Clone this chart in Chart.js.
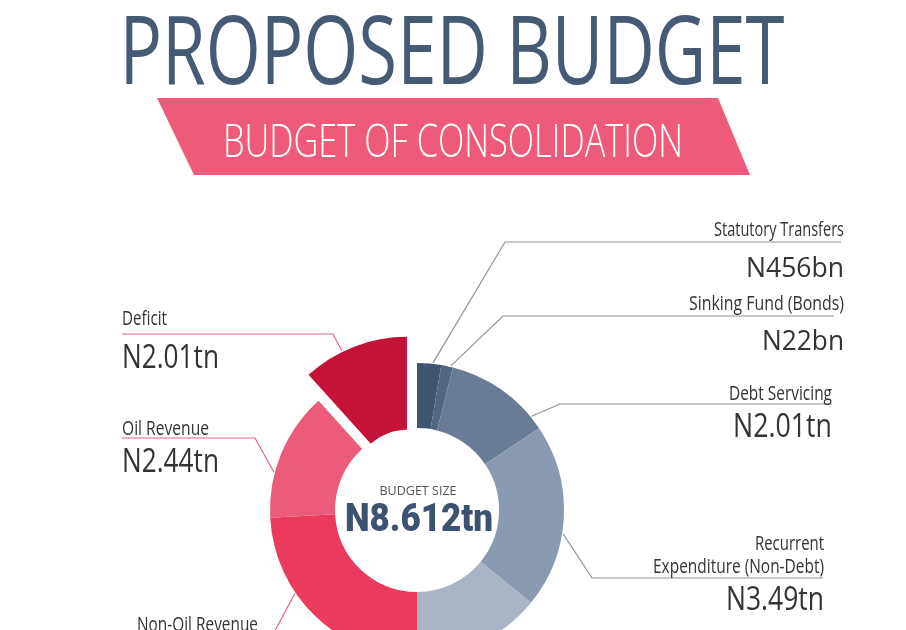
<!DOCTYPE html>
<html>
<head>
<meta charset="utf-8">
<script src="https://cdn.jsdelivr.net/npm/chart.js@4.4.1/dist/chart.umd.min.js"></script>
<style>
  html, body { margin: 0; padding: 0; background: #fff; overflow: hidden; }
  #wrap { position: relative; width: 906px; height: 630px; }
</style>
</head>
<body>
<div id="wrap"><canvas id="budgetChart"></canvas></div>
<script>
// slices, clockwise from 12 o'clock: expenditure on the right, funding on the left
const categories = [
  'Statutory Transfers', 'Sinking Fund (Bonds)', 'Debt Servicing',
  'Recurrent Expenditure (Non-Debt)', 'Capital Expenditure',
  'Non-Oil Revenue', 'Oil Revenue', 'Deficit'
];
const values = [0.456, 0.22, 2.01, 3.49, 2.43, 4.16, 2.44, 2.01]; // N trillion
const valueLabels = ['N456bn', 'N22bn', 'N2.01tn', 'N3.49tn', '', '', 'N2.44tn', 'N2.01tn'];
const sliceColors = ['#3e5470', '#536680', '#6a7c94', '#8a9bb1', '#a9b5c5', '#ea3a5e', '#ec5b79', '#c51238'];
const budgetSize = 'N8.612tn';

const SANS = '"Open Sans", sans-serif';
const slate = '#465a74';
const labelInk = '#333333';

// draw text squeezed to a measured width (the original uses a condensed face)
function fitText(ctx, t) {
  const size = t.cap / 0.714;
  ctx.save();
  ctx.font = `${t.weight || 500} ${size}px ${t.family || SANS}`;
  ctx.fillStyle = t.color || labelInk;
  ctx.textAlign = t.align || 'left';
  ctx.textBaseline = 'alphabetic';
  const w = ctx.measureText(t.text).width;
  ctx.translate(t.x, t.y);
  ctx.scale(t.width / w, 1);
  ctx.fillText(t.text, 0, 0);
  ctx.restore();
}

const headTexts = [
  { text: 'PROPOSED BUDGET', x: 452, y: 84, cap: 68, width: 665, align: 'center', color: slate, weight: 500 },
  { text: 'BUDGET OF CONSOLIDATION', x: 453, y: 157, cap: 33, width: 460, align: 'center', color: '#ffffff', weight: 300 }
];

const labelTexts = [
  { text: categories[0], x: 844, y: 236, cap: 14, width: 130, align: 'right' },
  { text: valueLabels[0], x: 844, y: 277, cap: 20, width: 98, align: 'right', weight: 400 },
  { text: categories[1], x: 844, y: 310, cap: 14, width: 155, align: 'right' },
  { text: valueLabels[1], x: 844, y: 350, cap: 19, width: 82, align: 'right', weight: 400 },
  { text: categories[2], x: 832, y: 400, cap: 14, width: 103, align: 'right' },
  { text: valueLabels[2], x: 832, y: 437, cap: 23, width: 99, align: 'right', weight: 400 },
  { text: 'Recurrent', x: 824, y: 550, cap: 14, width: 69, align: 'right' },
  { text: 'Expenditure (Non-Debt)', x: 824, y: 573, cap: 14, width: 171, align: 'right' },
  { text: valueLabels[3], x: 824, y: 610, cap: 23, width: 98, align: 'right', weight: 400 },
  { text: categories[7], x: 122, y: 325, cap: 14, width: 45 },
  { text: valueLabels[7], x: 122, y: 368, cap: 23, width: 97, weight: 400 },
  { text: categories[6], x: 122, y: 435, cap: 14, width: 87 },
  { text: valueLabels[6], x: 122, y: 472, cap: 23, width: 97, weight: 400 },
  { text: categories[5], x: 137, y: 631, cap: 14, width: 121 },
  { text: 'BUDGET SIZE', x: 418, y: 495, cap: 8.5, width: 77, align: 'center', color: '#555555', weight: 400 },
  { text: budgetSize, x: 419, y: 531, cap: 28, width: 148, align: 'center', color: '#3d5170', weight: 900, family: 'Roboto, sans-serif' }
];

// leader lines: point on slice rim -> elbow -> horizontal run
const rightLine = '#8c929c';
const leftLine = '#e2657f';
const leaders = [
  { i: 0, frac: 0.65, elbow: [505, 242], endX: 841, color: rightLine },
  { i: 1, frac: 0.8, elbow: [503, 316], endX: 834, color: rightLine },
  { i: 2, frac: 0.87, elbow: [560, 404], endX: 832, color: rightLine },
  { i: 3, frac: 0.59, elbow: [592, 578], endX: 823, color: rightLine },
  { i: 5, frac: 0.64, elbow: [270, 640], endX: 137, color: leftLine },
  { i: 6, frac: 0.35, elbow: [255, 438], endX: 122, color: leftLine },
  { i: 7, frac: 0.38, elbow: [333, 334], endX: 122, color: leftLine }
];

const EXPLODE = 28;

const infographic = {
  id: 'infographic',
  afterDatasetsUpdate(chart) {
    // pull the deficit slice out along its bisector
    const arc = chart.getDatasetMeta(0).data[7];
    const mid = (arc.startAngle + arc.endAngle) / 2;
    arc.x += Math.cos(mid) * EXPLODE;
    arc.y += Math.sin(mid) * EXPLODE;
    arc.innerRadius -= EXPLODE;
  },
  beforeDraw(chart) {
    const ctx = chart.ctx;
    ctx.save();
    ctx.fillStyle = '#ffffff';
    ctx.fillRect(0, 0, chart.width, chart.height);
    ctx.fillStyle = '#ee5b7a';
    ctx.beginPath();
    ctx.moveTo(157, 98);
    ctx.lineTo(718, 98);
    ctx.lineTo(750, 175);
    ctx.lineTo(194, 175);
    ctx.closePath();
    ctx.fill();
    ctx.restore();
    headTexts.forEach(t => fitText(ctx, t));
  },
  afterDatasetsDraw(chart) {
    const ctx = chart.ctx;
    const arcs = chart.getDatasetMeta(0).data;
    ctx.save();
    ctx.lineWidth = 1.2;
    leaders.forEach(l => {
      const arc = arcs[l.i];
      const a = arc.startAngle + l.frac * (arc.endAngle - arc.startAngle);
      const r = arc.outerRadius + 1;
      ctx.strokeStyle = l.color;
      ctx.beginPath();
      ctx.moveTo(arc.x + Math.cos(a) * r, arc.y + Math.sin(a) * r);
      ctx.lineTo(l.elbow[0], l.elbow[1]);
      ctx.lineTo(l.endX, l.elbow[1]);
      ctx.stroke();
    });
    ctx.restore();
    labelTexts.forEach(t => fitText(ctx, t));
  }
};

new Chart(document.getElementById('budgetChart'), {
  type: 'doughnut',
  data: {
    labels: categories,
    datasets: [{
      data: values,
      backgroundColor: sliceColors,
      borderWidth: 0
    }]
  },
  options: {
    responsive: true,
    maintainAspectRatio: false,
    animation: false,
    radius: 147,
    cutout: '55.8%',
    layout: { padding: { left: 0, right: 72, top: 390, bottom: 0 } },
    plugins: {
      legend: { display: false },
      tooltip: { enabled: false }
    }
  },
  plugins: [infographic]
});
</script>
</body>
</html>
